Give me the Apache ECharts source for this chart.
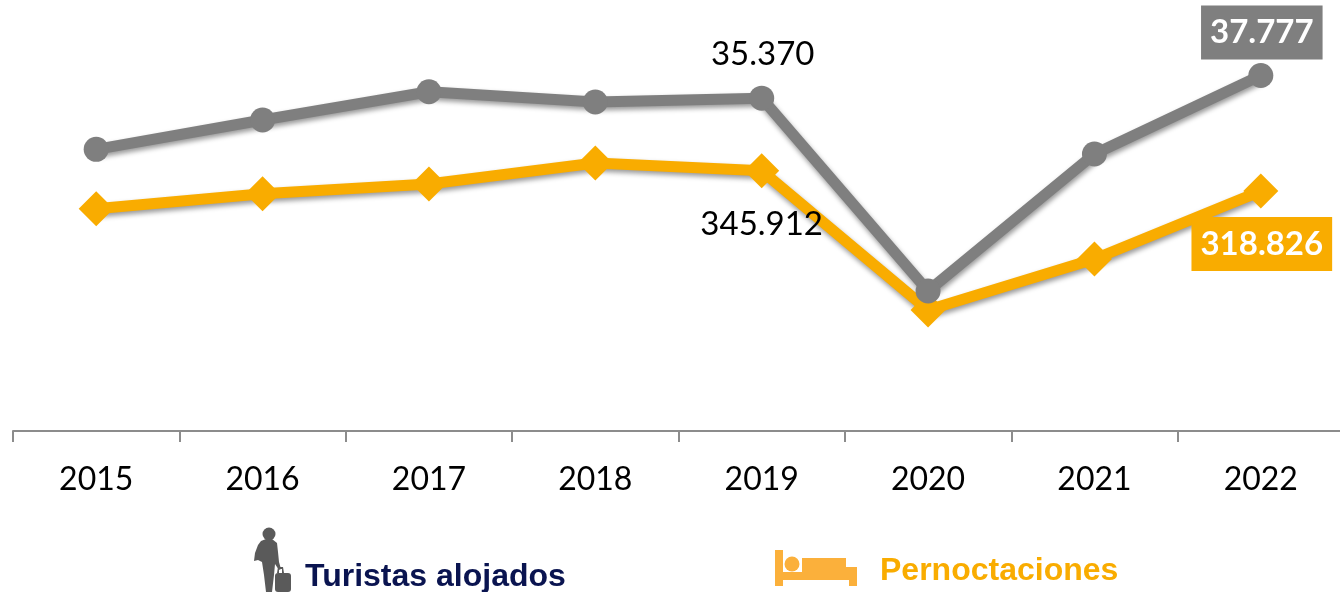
<!DOCTYPE html>
<html>
<head>
<meta charset="utf-8">
<style>html,body{margin:0;padding:0;background:#fff}#c{width:1340px;height:592px}</style>
<script src="https://cdn.jsdelivr.net/npm/echarts@6/dist/echarts.min.js"></script>
</head>
<body>
<div id="c"></div>
<script>
const years = ['2015','2016','2017','2018','2019','2020','2021','2022'];
const turistas = [29934,33047,36054,34960,35370,14876,29434,37777];
const pernoctaciones = [295437,315372,328263,356172,345912,160809,228588,318826];
const GREY = '#7F7F7F', ORANGE = '#F9AC00';
const fmt = v => String(v).replace(/\B(?=(\d{3})+$)/g, '.');
const plain = (offset) => ({show:true, position:'inside', offset, color:'#000', fontFamily:'Lato', fontSize:33, formatter:p=>fmt(p.value)});
const boxed = (offset, bg) => ({show:true, position:'inside', offset, color:'#fff', backgroundColor:bg, fontFamily:'Lato', fontWeight:'bold', fontSize:33, lineHeight:34, padding:[10,9], formatter:p=>fmt(p.value)});
const shadow = {shadowColor:'rgba(0,0,0,0.4)', shadowBlur:5, shadowOffsetX:1, shadowOffsetY:3};
const personBody = [[266,539],[272,539],[277,543],[278,552],[279,562],[281,569],[279,570],[275,564],[274,575],[272,592],[266,592],[264,575],[262,562],[258,560],[254,561],[255,553],[258,545],[261,541]];
const suitcaseHandle = [[278,567],[283,567],[284,573],[282,573],[282,569],[279,569],[279,573],[277,573]];
const bedFrame = [[775,550],[783,550],[783,572],[802,572],[802,558],[846,558],[846,567],[857,567],[857,586],[849,586],[849,580],[783,580],[783,586],[775,586]];
const PERSON = '#5A5A5A', BED = '#FBB03B';
const chart = echarts.init(document.getElementById('c'));
chart.setOption({
  animation:false,
  backgroundColor:'#fff',
  grid:{left:13, top:0, width:1331, height:431, outerBoundsMode:'none'},
  legend:[
    {data:['Turistas alojados'], left:304, top:561, itemWidth:0, itemHeight:0, itemGap:0, padding:0, selectedMode:false,
     textStyle:{fontFamily:'Liberation Sans', fontWeight:'bold', fontSize:32, color:'#0A1450', padding:[0,0,0,-5]}},
    {data:['Pernoctaciones'], left:879, top:555, itemWidth:0, itemHeight:0, itemGap:0, padding:0, selectedMode:false,
     textStyle:{fontFamily:'Liberation Sans', fontWeight:'bold', fontSize:32, color:ORANGE, padding:[0,0,0,-5]}}
  ],
  xAxis:{type:'category', data:years, boundaryGap:true,
    axisLine:{lineStyle:{color:'#8C8C8C', width:2}},
    axisTick:{show:true, length:11, lineStyle:{color:'#8C8C8C', width:2}},
    axisLabel:{color:'#000', fontFamily:'Lato', fontSize:32, margin:33, interval:0}},
  yAxis:[
    {type:'value', min:0, max:45800, show:false},
    {type:'value', min:0, max:572800, show:false}
  ],
  series:[
    {name:'Pernoctaciones', type:'line', yAxisIndex:1, z:2, symbol:'diamond', symbolSize:35, clip:false,
     lineStyle:{color:ORANGE, width:11, ...shadow}, itemStyle:{color:ORANGE},
     data:pernoctaciones.map((v,i)=> i===4 ? {value:v,label:plain([0,54])} : i===7 ? {value:v,label:boxed([1,53],ORANGE)} : v)},
    {name:'Turistas alojados', type:'line', yAxisIndex:0, z:3, symbol:'circle', symbolSize:25, clip:false,
     lineStyle:{color:GREY, width:11, ...shadow}, itemStyle:{color:GREY},
     data:turistas.map((v,i)=> i===4 ? {value:v,label:plain([1,-44])} : i===7 ? {value:v,label:boxed([1,-43],GREY)} : v)}
  ],
  graphic:[
    {type:'circle', silent:true, shape:{cx:269, cy:534, r:6.5}, style:{fill:PERSON}},
    {type:'polygon', silent:true, shape:{points:personBody}, style:{fill:PERSON}},
    {type:'polygon', silent:true, shape:{points:suitcaseHandle}, style:{fill:PERSON}},
    {type:'rect', silent:true, shape:{x:275, y:573, width:16, height:19, r:3}, style:{fill:PERSON}},
    {type:'polygon', silent:true, shape:{points:bedFrame}, style:{fill:BED}},
    {type:'circle', silent:true, shape:{cx:792, cy:564, r:7.5}, style:{fill:BED}}
  ]
});
</script>
</body>
</html>
